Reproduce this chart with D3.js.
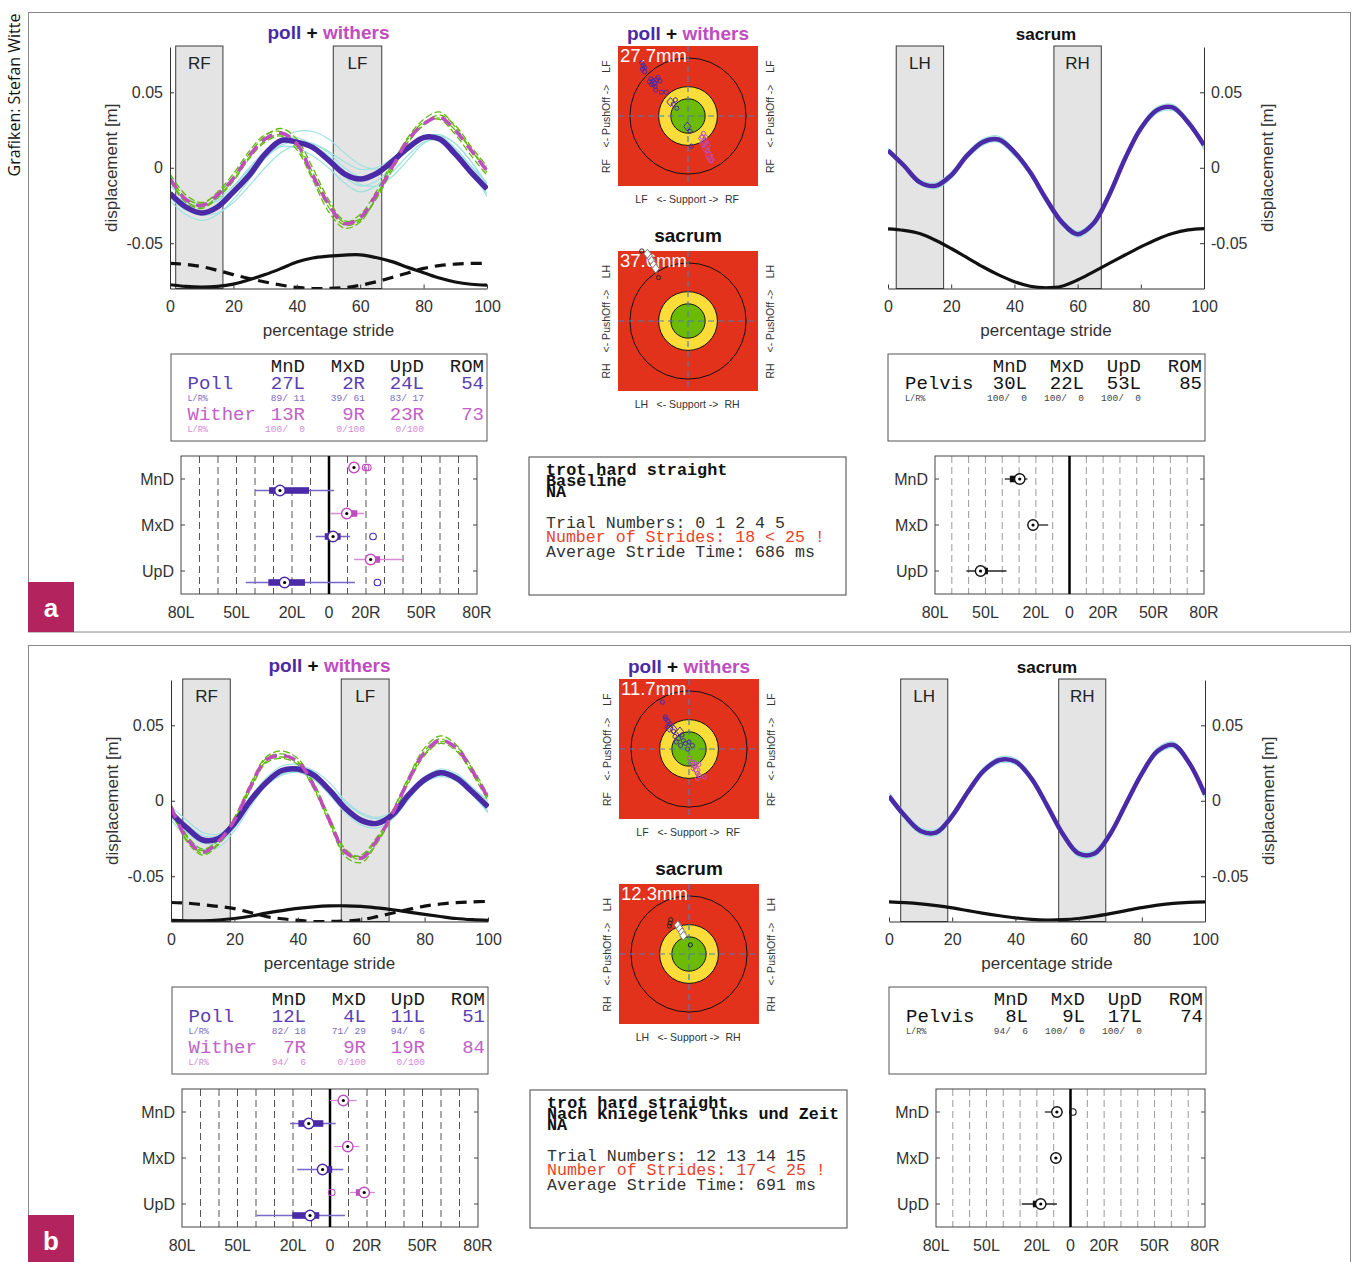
<!DOCTYPE html>
<html><head><meta charset="utf-8">
<script src="https://cdn.jsdelivr.net/npm/d3@7"></script>
<style>body{margin:0;background:#fff} svg{display:block} text{white-space:pre}</style>
</head><body><svg id="c" width="1359" height="1262"></svg>
<script>
// ---------------- shared categories / ticks ----------------
const stridePct = [0,5,10,15,20,25,30,35,40,45,50,55,60,65,70,75,80,85,90,95,100];
const yTicks = [-0.05, 0, 0.05];
const yTickLabels = ["-0.05", "0", "0.05"];
const xTicks = [0,20,40,60,80,100];
const boxCats = ["MnD","MxD","UpD"];
const boxGridVals = [-70,-60,-50,-40,-30,-20,-10,10,20,30,40,50,60,70];
const boxTickVals = [-80,-50,-20,0,20,50,80];
const boxTickLabels = ["80L","50L","20L","0","20R","50R","80R"];
const tableHeaders = ["MnD","MxD","UpD","ROM"];
const targetRings = [0.83, 0.42, 0.245];

// ---------------- panel a data ----------------
const foreStanceA = [[1.8,16.7,"RF"],[51.5,66.8,"LF"]];
const hindStanceA = [[2.6,17.6,"LH"],[52.5,67.5,"RH"]];
const pollMeanA = [-0.017,-0.026,-0.030,-0.026,-0.016,-0.005,0.009,0.018,0.017,0.0135,0.005,-0.004,-0.0075,-0.004,0.004,0.013,0.020,0.019,0.009,-0.003,-0.014];
const withersMeanA = [-0.007,-0.021,-0.025,-0.018,-0.007,0.008,0.019,0.023,0.016,-0.005,-0.024,-0.037,-0.033,-0.018,0.000,0.018,0.029,0.0335,0.0247,0.0115,-0.002];
const pollStridesA = [
 [-0.012,-0.020,-0.024,-0.022,-0.014,-0.003,0.008,0.015,0.017,0.016,0.011,0.004,-0.001,0.000,0.006,0.014,0.019,0.019,0.011,0.001,-0.010],
 [-0.022,-0.031,-0.035,-0.031,-0.021,-0.008,0.006,0.014,0.013,0.008,0.000,-0.010,-0.016,-0.012,-0.003,0.008,0.017,0.018,0.010,-0.003,-0.017],
 [-0.019,-0.027,-0.029,-0.024,-0.013,-0.001,0.010,0.019,0.024,0.024,0.019,0.010,0.002,-0.001,0.003,0.011,0.019,0.022,0.016,0.004,-0.011],
 [-0.015,-0.025,-0.031,-0.030,-0.023,-0.012,0.000,0.010,0.015,0.014,0.008,-0.003,-0.011,-0.012,-0.006,0.005,0.016,0.021,0.016,0.004,-0.012],
 [-0.020,-0.028,-0.030,-0.025,-0.015,-0.002,0.011,0.019,0.020,0.015,0.005,-0.006,-0.012,-0.009,0.001,0.012,0.020,0.020,0.012,-0.002,-0.019],
 [-0.016,-0.023,-0.026,-0.021,-0.012,0.000,0.011,0.017,0.018,0.016,0.010,0.000,-0.006,-0.005,0.002,0.012,0.020,0.021,0.013,0.001,-0.013]
];
const withersStridesA = [
 [-0.004,-0.018,-0.023,-0.017,-0.006,0.009,0.021,0.026,0.019,0.000,-0.021,-0.035,-0.034,-0.021,-0.002,0.016,0.029,0.035,0.028,0.014,0.001],
 [-0.009,-0.023,-0.027,-0.020,-0.009,0.006,0.017,0.021,0.012,-0.008,-0.029,-0.040,-0.036,-0.019,0.002,0.020,0.032,0.037,0.027,0.012,-0.003],
 [-0.006,-0.020,-0.024,-0.016,-0.004,0.011,0.022,0.024,0.016,-0.003,-0.023,-0.036,-0.031,-0.016,0.003,0.019,0.030,0.032,0.022,0.008,-0.005],
 [-0.008,-0.022,-0.026,-0.019,-0.008,0.007,0.018,0.022,0.014,-0.006,-0.026,-0.038,-0.035,-0.020,0.000,0.017,0.028,0.033,0.025,0.012,-0.001]
];
const foreLimbSolidA = [-0.0775,-0.0786,-0.0790,-0.0786,-0.0771,-0.0742,-0.0708,-0.0668,-0.0625,-0.0598,-0.0586,-0.0579,-0.0577,-0.0595,-0.0622,-0.0660,-0.0695,-0.0731,-0.0757,-0.0772,-0.0778];
const foreLimbDashedA = [-0.0634,-0.0640,-0.0655,-0.0680,-0.0708,-0.0734,-0.0757,-0.0777,-0.0793,-0.0800,-0.0800,-0.0794,-0.0779,-0.0756,-0.0727,-0.0697,-0.0667,-0.0648,-0.0638,-0.0634,-0.0634];
const sacrumMeanA = [0.0115,0.0015,-0.0095,-0.012,-0.005,0.008,0.017,0.0187,0.0104,-0.003,-0.0205,-0.036,-0.044,-0.037,-0.018,0.006,0.026,0.038,0.040,0.030,0.015];
const sacrumStridesA = [
 [0.013,0.003,-0.008,-0.010,-0.003,0.010,0.019,0.021,0.012,-0.002,-0.019,-0.034,-0.042,-0.035,-0.016,0.008,0.028,0.040,0.042,0.032,0.016],
 [0.010,0.000,-0.011,-0.014,-0.007,0.006,0.015,0.017,0.008,-0.005,-0.023,-0.038,-0.046,-0.039,-0.020,0.004,0.024,0.036,0.038,0.029,0.012],
 [0.012,0.002,-0.010,-0.013,-0.004,0.009,0.018,0.020,0.011,-0.002,-0.020,-0.036,-0.045,-0.037,-0.018,0.005,0.025,0.038,0.041,0.031,0.013]
];
const hindLimbA = [-0.0405,-0.0415,-0.0436,-0.0480,-0.0535,-0.0595,-0.0656,-0.0710,-0.0755,-0.0785,-0.0795,-0.0785,-0.0744,-0.0690,-0.0634,-0.0578,-0.0524,-0.0475,-0.0436,-0.0412,-0.0403];
const pollRowA = ["Poll","27L","2R","24L","54"];
const pollPctA = ["89/ 11","39/ 61","83/ 17"];
const witherRowA = ["Wither","13R","9R","23R","73"];
const witherPctA = ["100/  0","0/100","0/100"];
const pelvisRowA = ["Pelvis","30L","22L","53L","85"];
const pelvisPctA = ["100/  0","100/  0","100/  0"];
const infoHeadA = ["trot hard straight","Baseline","NA"];
const infoLinesA = ["Trial Numbers: 0 1 2 4 5","Number of Strides: 18 < 25 !","Average Stride Time: 686 ms"];
const mmA = ["27.7mm","37.6mm"];
const pollDotsA = [[-0.66,0.76],[-0.64,0.72],[-0.62,0.69],[-0.65,0.67],[-0.62,0.63],[-0.53,0.53],[-0.50,0.50],[-0.48,0.47],[-0.52,0.45],[-0.45,0.52],[-0.43,0.55],[-0.47,0.42],[-0.46,0.37],[-0.38,0.34],[-0.31,0.34],[-0.18,0.23],[-0.21,0.17],[-0.16,0.11],[0.03,-0.22],[0.05,-0.43],[-0.40,0.50],[-0.55,0.49]];
const pollDiamondsA = [[-0.25,0.20],[-0.01,-0.15],[-0.49,0.47]];
const withersDotsA = [[0.22,-0.25],[0.20,-0.30],[0.25,-0.30],[0.28,-0.50],[0.33,-0.64]];
const withersDiamondsA = [[0.20,-0.32],[0.22,-0.39],[0.25,-0.46],[0.30,-0.56],[0.32,-0.61],[0.24,-0.36],[0.27,-0.42]];
const sacrumDotsA = [[-0.66,1.0],[-0.42,0.62]];
const sacrumDiamondsA = [[-0.55,0.92],[-0.52,0.86],[-0.49,0.80],[-0.46,0.75],[-0.58,0.96]];
const headBoxA = [
 {cat:"MnD",who:"withers",lo:9.6,q1:12,med:13.5,q3:15,hi:17,out:[19.8,21.0]},
 {cat:"MnD",who:"poll",lo:-40,q1:-32.4,med:-26.5,q3:-10.8,hi:2.7,out:[]},
 {cat:"MxD",who:"withers",lo:0.9,q1:7.2,med:9.6,q3:15.3,hi:19,out:[]},
 {cat:"MxD",who:"poll",lo:-7.2,q1:-2.3,med:2.2,q3:6.3,hi:11.4,out:[23.8]},
 {cat:"UpD",who:"withers",lo:13.5,q1:20.7,med:22.5,q3:27.6,hi:39.7,out:[]},
 {cat:"UpD",who:"poll",lo:-45,q1:-32.8,med:-24,q3:-13,hi:14,out:[26.2]}
];
const pelvisBoxA = [
 {cat:"MnD",who:"pelvis",lo:-38.5,q1:-35.5,med:-29.6,q3:-30,hi:-25,out:[]},
 {cat:"MxD",who:"pelvis",lo:-23.6,q1:-22.5,med:-21.7,q3:-20.5,hi:-12.7,out:[]},
 {cat:"UpD",who:"pelvis",lo:-61.3,q1:-53.4,med:-52.9,q3:-48.5,hi:-37.5,out:[]}
];

// ---------------- panel b data ----------------
const foreStanceB = [[3.7,18.7,"RF"],[53.7,68.8,"LF"]];
const hindStanceB = [[3.7,18.6,"LH"],[53.7,68.6,"RH"]];
const pollMeanB = [-0.008,-0.018,-0.026,-0.025,-0.015,0.000,0.012,0.020,0.021,0.017,0.007,-0.005,-0.013,-0.015,-0.009,0.004,0.014,0.0185,0.015,0.006,-0.004];
const withersMeanB = [-0.004,-0.025,-0.034,-0.027,-0.013,0.009,0.027,0.030,0.026,0.010,-0.013,-0.034,-0.038,-0.026,-0.008,0.014,0.032,0.040,0.035,0.020,0.002];
const pollStridesB = [
 [-0.004,-0.013,-0.021,-0.022,-0.014,-0.001,0.012,0.020,0.023,0.020,0.012,0.000,-0.008,-0.011,-0.007,0.005,0.015,0.020,0.017,0.009,0.000],
 [-0.013,-0.024,-0.032,-0.031,-0.020,-0.004,0.010,0.018,0.019,0.014,0.004,-0.008,-0.016,-0.018,-0.012,0.001,0.012,0.016,0.013,0.004,-0.008],
 [-0.009,-0.019,-0.027,-0.026,-0.015,0.002,0.015,0.023,0.024,0.019,0.008,-0.004,-0.012,-0.014,-0.008,0.006,0.016,0.021,0.018,0.009,-0.002],
 [-0.006,-0.016,-0.023,-0.023,-0.015,-0.002,0.010,0.017,0.019,0.016,0.009,-0.001,-0.009,-0.012,-0.009,0.002,0.012,0.017,0.015,0.007,-0.005],
 [-0.011,-0.021,-0.028,-0.028,-0.018,-0.002,0.013,0.021,0.022,0.018,0.006,-0.006,-0.014,-0.016,-0.010,0.003,0.014,0.019,0.016,0.005,-0.007]
];
const withersStridesB = [
 [-0.002,-0.023,-0.032,-0.026,-0.011,0.011,0.029,0.033,0.028,0.012,-0.011,-0.032,-0.037,-0.025,-0.006,0.016,0.035,0.043,0.037,0.022,0.004],
 [-0.006,-0.027,-0.036,-0.029,-0.014,0.007,0.025,0.028,0.024,0.008,-0.015,-0.037,-0.041,-0.028,-0.010,0.012,0.030,0.038,0.033,0.018,0.000],
 [-0.003,-0.024,-0.035,-0.028,-0.013,0.010,0.028,0.031,0.026,0.011,-0.012,-0.033,-0.039,-0.027,-0.007,0.015,0.033,0.041,0.034,0.019,0.003],
 [-0.005,-0.026,-0.033,-0.025,-0.012,0.008,0.026,0.029,0.025,0.009,-0.014,-0.035,-0.036,-0.024,-0.009,0.013,0.031,0.039,0.036,0.021,0.002]
];
const foreLimbSolidB = [-0.0793,-0.0795,-0.0795,-0.0790,-0.0780,-0.0765,-0.0745,-0.0728,-0.0713,-0.0703,-0.0697,-0.0696,-0.0700,-0.0710,-0.0722,-0.0738,-0.0753,-0.0767,-0.0780,-0.0788,-0.0793];
const foreLimbDashedB = [-0.0674,-0.0678,-0.0688,-0.0700,-0.0715,-0.0740,-0.0767,-0.0782,-0.0792,-0.0800,-0.0800,-0.0797,-0.0789,-0.0768,-0.0744,-0.0720,-0.0698,-0.0684,-0.0675,-0.0670,-0.0667];
const sacrumMeanB = [0.003,-0.010,-0.020,-0.021,-0.010,0.006,0.020,0.027,0.026,0.015,-0.003,-0.022,-0.035,-0.035,-0.022,-0.002,0.018,0.033,0.037,0.025,0.004];
const sacrumStridesB = [
 [0.005,-0.008,-0.018,-0.019,-0.008,0.008,0.022,0.029,0.028,0.017,-0.001,-0.020,-0.033,-0.033,-0.020,0.000,0.020,0.035,0.039,0.027,0.006],
 [0.001,-0.012,-0.022,-0.023,-0.012,0.004,0.018,0.025,0.024,0.013,-0.005,-0.024,-0.037,-0.037,-0.024,-0.004,0.016,0.031,0.035,0.023,0.002],
 [0.003,-0.009,-0.021,-0.022,-0.011,0.005,0.020,0.027,0.026,0.015,-0.002,-0.021,-0.035,-0.036,-0.023,-0.003,0.018,0.033,0.037,0.026,0.005]
];
const hindLimbB = [-0.0670,-0.0675,-0.0683,-0.0695,-0.0710,-0.0728,-0.0746,-0.0762,-0.0776,-0.0786,-0.0790,-0.0788,-0.0780,-0.0766,-0.0748,-0.0728,-0.0708,-0.0692,-0.0680,-0.0673,-0.0670];
const pollRowB = ["Poll","12L","4L","11L","51"];
const pollPctB = ["82/ 18","71/ 29","94/  6"];
const witherRowB = ["Wither","7R","9R","19R","84"];
const witherPctB = ["94/  6","0/100","0/100"];
const pelvisRowB = ["Pelvis","8L","9L","17L","74"];
const pelvisPctB = ["94/  6","100/  0","100/  0"];
const infoHeadB = ["trot hard straight","Nach Kniegelenk lnks und Zeit","NA"];
const infoLinesB = ["Trial Numbers: 12 13 14 15","Number of Strides: 17 < 25 !","Average Stride Time: 691 ms"];
const mmB = ["11.7mm","12.3mm"];
const pollDotsB = [[-0.38,0.67],[-0.34,0.46],[-0.33,0.43],[-0.30,0.40],[-0.27,0.36],[-0.31,0.32],[-0.22,0.25],[-0.20,0.18],[-0.15,0.15],[-0.10,0.20],[-0.08,0.12],[-0.12,0.05],[-0.05,0.08],[0.00,0.10],[0.05,0.05],[-0.02,0.00],[-0.18,0.10]];
const pollDiamondsB = [[-0.28,0.30],[-0.13,0.25],[-0.22,0.28]];
const withersDotsB = [[0.01,-0.13],[0.05,-0.20],[0.08,-0.25],[0.10,-0.30],[0.12,-0.35],[0.15,-0.38],[0.22,-0.40],[0.12,-0.42],[0.06,-0.28],[0.14,-0.22]];
const withersDiamondsB = [[0.08,-0.22],[0.11,-0.30]];
const sacrumDotsB = [[-0.26,0.49],[-0.27,0.44],[-0.28,0.40],[0.02,0.13]];
const sacrumDiamondsB = [[-0.16,0.41],[-0.13,0.36],[-0.10,0.31],[-0.08,0.26]];
const headBoxB = [
 {cat:"MnD",who:"withers",lo:0,q1:5,med:7.2,q3:9,hi:14.4,out:[]},
 {cat:"MnD",who:"poll",lo:-21.6,q1:-17.1,med:-11.5,q3:-3.6,hi:3.1,out:[]},
 {cat:"MxD",who:"withers",lo:2.2,q1:8,med:9.6,q3:11.5,hi:15.9,out:[]},
 {cat:"MxD",who:"poll",lo:-17.7,q1:-5.8,med:-4,q3:1.2,hi:7.2,out:[]},
 {cat:"UpD",who:"withers",lo:10.8,q1:14,med:18.5,q3:18.9,hi:24.3,out:[0.9]},
 {cat:"UpD",who:"poll",lo:-39.6,q1:-20.4,med:-10.8,q3:-5.8,hi:8.1,out:[]}
];
const pelvisBoxB = [
 {cat:"MnD",who:"pelvis",lo:-15.3,q1:-10,med:-8.1,q3:-6.5,hi:-4.6,out:[1.4]},
 {cat:"MxD",who:"pelvis",lo:-12.3,q1:-9.5,med:-8.7,q3:-8,hi:-5.2,out:[]},
 {cat:"UpD",who:"pelvis",lo:-29,q1:-22.4,med:-17.7,q3:-16.5,hi:-8.1,out:[]}
];

// ---------------- styles ----------------
const SANS = "'Liberation Sans', Arial, sans-serif";
const MONO = "'Liberation Mono', 'Courier New', monospace";
const AX = "#333";
const POLL = "#4a2aa6", WITH = "#c04cc0", CYAN = "#9fe0e0", GREEN = "#5fba0a";
const boxStyle = {
  poll:{box:POLL, wh:"#7a66c6", off:11.5},
  withers:{box:WITH, wh:"#d78ad8", off:-11.5},
  pelvis:{box:"#111", wh:"#222", off:0}
};
const svg = d3.select("#c");
let clipN = 0;

function titlePW(g, x, y, size) {
  const t = g.append("text").attr("x",x).attr("y",y).attr("text-anchor","middle")
    .attr("font-family",SANS).attr("font-weight","bold").attr("font-size",size);
  t.append("tspan").attr("fill",POLL).text("poll");
  t.append("tspan").attr("fill","#111").text(" + ");
  t.append("tspan").attr("fill",WITH).text("withers");
}

function lineChart(g, c) {
  const x = d3.scaleLinear().domain([0,100]).range([c.x0,c.x1]);
  const y = d3.scaleLinear().domain([-0.08,0.08]).range([288.5,47]);
  const id = "clip"+(clipN++);
  g.append("clipPath").attr("id",id).append("rect").attr("x",c.x0).attr("y",46).attr("width",c.x1-c.x0+1).attr("height",243);
  c.stance.forEach(s=>{
    g.append("rect").attr("x",x(s[0])).attr("y",46).attr("width",x(s[1])-x(s[0])).attr("height",242.5)
      .attr("fill","#e4e4e4").attr("stroke","#3a3a3a").attr("stroke-width",1);
    g.append("text").attr("x",(x(s[0])+x(s[1]))/2).attr("y",69).attr("text-anchor","middle")
      .attr("font-family",SANS).attr("font-size",17).attr("fill","#222").text(s[2]);
  });
  const line = d3.line().x((d,i)=>x(stridePct[i])).y(d=>y(d)).curve(d3.curveCatmullRom);
  const p = g.append("g").attr("clip-path",`url(#${id})`);
  c.layers.forEach(L=>{
    L.data.forEach(arr=>{
      p.append("path").attr("d",line(arr)).attr("fill","none").attr("stroke",L.color)
        .attr("stroke-width",L.w).attr("stroke-dasharray",L.dash||null);
    });
  });
  const left = c.axis==="left";
  const ay = (left ? d3.axisLeft(y) : d3.axisRight(y)).tickValues(yTicks)
    .tickFormat((d,i)=>yTickLabels[i]).tickSizeInner(-4).tickSizeOuter(0).tickPadding(7);
  const ga = g.append("g").attr("transform",`translate(${left?c.x0:c.x1},0)`).call(ay);
  const axb = d3.axisBottom(x).tickValues(xTicks).tickFormat(d=>String(d)).tickSizeInner(-4).tickSizeOuter(0).tickPadding(12);
  const gb = g.append("g").attr("transform","translate(0,288.5)").call(axb);
  [ga,gb].forEach(a=>{
    a.selectAll("path,line").attr("stroke",AX);
    a.selectAll("text").attr("font-family",SANS).attr("font-size",16).attr("fill","#333");
  });
  g.append("text").attr("x",(c.x0+c.x1)/2).attr("y",336).attr("text-anchor","middle")
    .attr("font-family",SANS).attr("font-size",17).attr("fill","#333").text("percentage stride");
  const lx = left ? c.x0-53 : c.x1+69;
  g.append("text").attr("transform",`translate(${lx},167.75) rotate(-90)`).attr("text-anchor","middle")
    .attr("font-family",SANS).attr("font-size",17).attr("fill","#333").text("displacement [m]");
  if (c.title === "pw") titlePW(g,(c.x0+c.x1)/2,39,19);
  else g.append("text").attr("x",(c.x0+c.x1)/2).attr("y",40).attr("text-anchor","middle")
    .attr("font-family",SANS).attr("font-weight","bold").attr("font-size",17).attr("fill","#111").text(c.title);
}

function target(g, c) {
  const S = 140;
  const s = d3.scaleLinear().domain([-1,1]).range([0,S]);
  const X = u=>c.x0+s(u), Y = v=>c.y0+S-s(v);
  const cx = X(0), cy = Y(0);
  g.append("rect").attr("x",c.x0).attr("y",c.y0).attr("width",S).attr("height",S).attr("fill","#e2321c");
  const rr = v=>s(v)-s(0);
  g.append("circle").attr("cx",cx).attr("cy",cy).attr("r",rr(targetRings[0])).attr("fill","none").attr("stroke","#111").attr("stroke-width",1);
  g.append("circle").attr("cx",cx).attr("cy",cy).attr("r",rr(targetRings[1])).attr("fill","#fbdc38").attr("stroke","#111").attr("stroke-width",1);
  g.append("circle").attr("cx",cx).attr("cy",cy).attr("r",rr(targetRings[2])).attr("fill","#6cbb00").attr("stroke","#111").attr("stroke-width",1);
  g.append("line").attr("x1",c.x0).attr("x2",c.x0+S).attr("y1",cy).attr("y2",cy).attr("stroke","#4f7db5").attr("stroke-width",1.2).attr("stroke-dasharray","6,4");
  g.append("line").attr("x1",cx).attr("x2",cx).attr("y1",c.y0).attr("y2",c.y0+S).attr("stroke","#4f7db5").attr("stroke-width",1.2).attr("stroke-dasharray","6,4");
  g.append("text").attr("x",c.x0+2).attr("y",c.y0+16).attr("font-family",SANS).attr("font-size",18.5).attr("fill","#fff").text(c.mm);
  const dia = (px,py,r)=>`M${px},${py-r}L${px+r*0.8},${py}L${px},${py+r}L${px-r*0.8},${py}Z`;
  c.sets.forEach(st=>{
    st.dots.forEach(d=>g.append("circle").attr("cx",X(d[0])).attr("cy",Y(d[1])).attr("r",2.1)
      .attr("fill","none").attr("stroke",st.color).attr("stroke-width",1));
    st.diamonds.forEach(d=>g.append("path").attr("d",dia(X(d[0]),Y(d[1]),4.5))
      .attr("fill",st.dfill||"none").attr("stroke",st.dcolor||st.color).attr("stroke-width",1));
  });
  const lab = (tx,ty,txt)=>g.append("text").attr("transform",`translate(${tx},${ty}) rotate(-90)`).attr("text-anchor","middle")
    .attr("font-family",SANS).attr("font-size",10.5).attr("fill","#333").text(txt);
  [c.x0-8, c.x0+156].forEach(tx=>{
    lab(tx,c.y0+20.5,c.top); lab(tx,c.y0+70,"<- PushOff ->"); lab(tx,c.y0+120,c.bot);
  });
  const bl = (tx,txt)=>g.append("text").attr("x",tx).attr("y",c.y0+157).attr("text-anchor","middle")
    .attr("font-family",SANS).attr("font-size",10.5).attr("fill","#333").text(txt);
  bl(c.x0+23.5,c.top); bl(c.x0+69.5,"<- Support ->"); bl(c.x0+114,c.bot);
  if (c.title === "pw") titlePW(g,c.x0+70,c.y0-6,19);
  else g.append("text").attr("x",c.x0+70).attr("y",c.y0-9).attr("text-anchor","middle")
    .attr("font-family",SANS).attr("font-weight","bold").attr("font-size",19).attr("fill","#111").text(c.title);
}

function table(g, c) {
  g.append("rect").attr("x",c.x0).attr("y",354).attr("width",c.w).attr("height",87).attr("fill","none").attr("stroke","#555").attr("stroke-width",1);
  tableHeaders.forEach((h,i)=>g.append("text").attr("x",c.cols[i]).attr("y",372).attr("text-anchor","end")
    .attr("font-family",MONO).attr("font-size",19).attr("fill","#1a1a1a").text(h));
  c.rows.forEach((r,ri)=>{
    const b = 389 + ri*30.5;
    g.append("text").attr("x",c.nameX).attr("y",b).attr("font-family",MONO).attr("font-size",19).attr("fill",r.color).text(r.vals[0]);
    r.vals.slice(1).forEach((v,i)=>g.append("text").attr("x",c.cols[i]).attr("y",b).attr("text-anchor","end")
      .attr("font-family",MONO).attr("font-size",19).attr("fill",r.color).text(v));
    g.append("text").attr("x",c.nameX).attr("y",b+12).attr("font-family",MONO).attr("font-size",8.5).attr("fill",r.small).text("L/R%");
    r.pct.forEach((v,i)=>g.append("text").attr("x",c.cols[i]).attr("y",b+12).attr("text-anchor","end")
      .attr("font-family",MONO).attr("font-size",9.5).attr("fill",r.small).text(v));
  });
}

function boxChart(g, c) {
  const x = d3.scaleLinear().domain([-80,80]).range([c.x0,c.x1]);
  const y = d3.scalePoint().domain(boxCats).range([479,571]);
  boxGridVals.forEach(v=>g.append("line").attr("x1",x(v)).attr("x2",x(v)).attr("y1",456).attr("y2",594)
    .attr("stroke",c.grid).attr("stroke-width",1).attr("stroke-dasharray","7,4"));
  g.append("rect").attr("x",c.x0).attr("y",456).attr("width",c.x1-c.x0).attr("height",138)
    .attr("fill","none").attr("stroke","#444").attr("stroke-width",1);
  g.append("line").attr("x1",x(0)).attr("x2",x(0)).attr("y1",456).attr("y2",594).attr("stroke","#000").attr("stroke-width",2.5);
  boxCats.forEach(cat=>{
    g.append("line").attr("x1",c.x0).attr("x2",c.x0+4).attr("y1",y(cat)).attr("y2",y(cat)).attr("stroke","#444");
    g.append("line").attr("x1",c.x1-4).attr("x2",c.x1).attr("y1",y(cat)).attr("y2",y(cat)).attr("stroke","#444");
    g.append("text").attr("x",c.x0-7).attr("y",y(cat)+6).attr("text-anchor","end")
      .attr("font-family",SANS).attr("font-size",16).attr("fill","#333").text(cat);
  });
  boxTickVals.forEach((v,i)=>g.append("text").attr("x",x(v)).attr("y",618).attr("text-anchor","middle")
    .attr("font-family",SANS).attr("font-size",16).attr("fill","#333").text(boxTickLabels[i]));
  c.stats.forEach(s=>{
    const st = boxStyle[s.who];
    const yy = y(s.cat) + st.off;
    g.append("line").attr("x1",x(s.lo)).attr("x2",x(s.hi)).attr("y1",yy).attr("y2",yy).attr("stroke",st.wh).attr("stroke-width",1.3);
    g.append("rect").attr("x",x(s.q1)).attr("y",yy-3.3).attr("width",Math.max(1,x(s.q3)-x(s.q1))).attr("height",6.6).attr("fill",st.box);
    s.out.forEach(o=>g.append("circle").attr("cx",x(o)).attr("cy",yy).attr("r",3.3).attr("fill","none").attr("stroke",st.box).attr("stroke-width",1.1));
    g.append("circle").attr("cx",x(s.med)).attr("cy",yy).attr("r",5.2).attr("fill","#fff").attr("stroke",st.box).attr("stroke-width",1.4);
    g.append("circle").attr("cx",x(s.med)).attr("cy",yy).attr("r",1.6).attr("fill","#000");
  });
}

function infoBox(g, head, lines) {
  g.append("rect").attr("x",529).attr("y",457).attr("width",317).attr("height",138).attr("fill","none").attr("stroke","#444").attr("stroke-width",1);
  head.forEach((t,i)=>g.append("text").attr("x",546).attr("y",475+i*11).attr("font-family",MONO).attr("font-weight","bold")
    .attr("font-size",16.8).attr("fill","#111").text(t));
  const cols = ["#333","#e8432a","#333"];
  lines.forEach((t,i)=>g.append("text").attr("x",546).attr("y",528+i*14.3).attr("font-family",MONO)
    .attr("font-size",16.6).attr("fill",cols[i]).text(t));
}

function panel(g, d) {
  lineChart(g,{x0:170,x1:487,axis:"left",title:"pw",stance:d.foreStance,layers:[
    {data:d.pollStrides,color:CYAN,w:1.2},
    {data:d.withersStrides,color:GREEN,w:1.3,dash:"7,3"},
    {data:[d.pollMean],color:POLL,w:5.5},
    {data:[d.withersMean],color:WITH,w:3.5,dash:"12,7"},
    {data:[d.limbSolid],color:"#111",w:3.2},
    {data:[d.limbDashed],color:"#111",w:3.2,dash:"11,7"}
  ]});
  lineChart(g,{x0:888,x1:1204,axis:"right",title:"sacrum",stance:d.hindStance,layers:[
    {data:d.sacrumStrides,color:CYAN,w:1.2},
    {data:[d.sacrumMean],color:POLL,w:4.5},
    {data:[d.hindLimb],color:"#111",w:3.2}
  ]});
  target(g,{x0:618,y0:46,mm:d.mm[0],top:"LF",bot:"RF",title:"pw",sets:[
    {dots:d.pollDots,diamonds:d.pollDiamonds,color:POLL},
    {dots:d.withersDots,diamonds:d.withersDiamonds,color:WITH}
  ]});
  target(g,{x0:618,y0:251,mm:d.mm[1],top:"LH",bot:"RH",title:"sacrum",sets:[
    {dots:d.sacrumDots,diamonds:d.sacrumDiamonds,color:"#222",dcolor:"#777",dfill:"#fff"}
  ]});
  table(g,{x0:171,w:316,nameX:187.5,cols:[305,365,424,484],rows:[
    {vals:d.pollRow,pct:d.pollPct,color:"#5a3eb4",small:"#7d6cc6"},
    {vals:d.witherRow,pct:d.witherPct,color:"#c262c8",small:"#d58ad8"}
  ]});
  table(g,{x0:888,w:317,nameX:905,cols:[1027,1084,1141,1202],rows:[
    {vals:d.pelvisRow,pct:d.pelvisPct,color:"#111",small:"#444"}
  ]});
  boxChart(g,{x0:181,x1:477,grid:"#555",stats:d.headBox});
  boxChart(g,{x0:935,x1:1204,grid:"#9a9a9a",stats:d.pelvisBox});
  infoBox(g,d.infoHead,d.infoLines);
}

// frames and labels
svg.append("rect").attr("width",1359).attr("height",1262).attr("fill","#fff");
svg.append("rect").attr("x",28.5).attr("y",12.5).attr("width",1322).attr("height",619.5).attr("fill","none").attr("stroke","#888");
svg.append("rect").attr("x",28.5).attr("y",645.5).attr("width",1322).attr("height",620).attr("fill","none").attr("stroke","#888");
svg.append("text").attr("transform","translate(20,95) rotate(-90)").attr("text-anchor","middle")
  .attr("font-family","'Open Sans', sans-serif").attr("font-size",16).attr("fill","#111").text("Grafiken: Stefan Witte");
[["a",582],["b",1215]].forEach(([t,y0])=>{
  svg.append("rect").attr("x",28).attr("y",y0).attr("width",46).attr("height",50).attr("fill","#b3245e");
  svg.append("text").attr("x",51).attr("y",y0+35).attr("text-anchor","middle").attr("font-family",SANS)
    .attr("font-weight","bold").attr("font-size",26).attr("fill","#fff").text(t);
});

panel(svg.append("g"),{
  foreStance:foreStanceA,hindStance:hindStanceA,pollMean:pollMeanA,withersMean:withersMeanA,
  pollStrides:pollStridesA,withersStrides:withersStridesA,limbSolid:foreLimbSolidA,limbDashed:foreLimbDashedA,
  sacrumMean:sacrumMeanA,sacrumStrides:sacrumStridesA,hindLimb:hindLimbA,
  pollRow:pollRowA,pollPct:pollPctA,witherRow:witherRowA,witherPct:witherPctA,pelvisRow:pelvisRowA,pelvisPct:pelvisPctA,
  infoHead:infoHeadA,infoLines:infoLinesA,mm:mmA,
  pollDots:pollDotsA,pollDiamonds:pollDiamondsA,withersDots:withersDotsA,withersDiamonds:withersDiamondsA,
  sacrumDots:sacrumDotsA,sacrumDiamonds:sacrumDiamondsA,headBox:headBoxA,pelvisBox:pelvisBoxA
});
panel(svg.append("g").attr("transform","translate(1,633)"),{
  foreStance:foreStanceB,hindStance:hindStanceB,pollMean:pollMeanB,withersMean:withersMeanB,
  pollStrides:pollStridesB,withersStrides:withersStridesB,limbSolid:foreLimbSolidB,limbDashed:foreLimbDashedB,
  sacrumMean:sacrumMeanB,sacrumStrides:sacrumStridesB,hindLimb:hindLimbB,
  pollRow:pollRowB,pollPct:pollPctB,witherRow:witherRowB,witherPct:witherPctB,pelvisRow:pelvisRowB,pelvisPct:pelvisPctB,
  infoHead:infoHeadB,infoLines:infoLinesB,mm:mmB,
  pollDots:pollDotsB,pollDiamonds:pollDiamondsB,withersDots:withersDotsB,withersDiamonds:withersDiamondsB,
  sacrumDots:sacrumDotsB,sacrumDiamonds:sacrumDiamondsB,headBox:headBoxB,pelvisBox:pelvisBoxB
});
</script></body></html>
